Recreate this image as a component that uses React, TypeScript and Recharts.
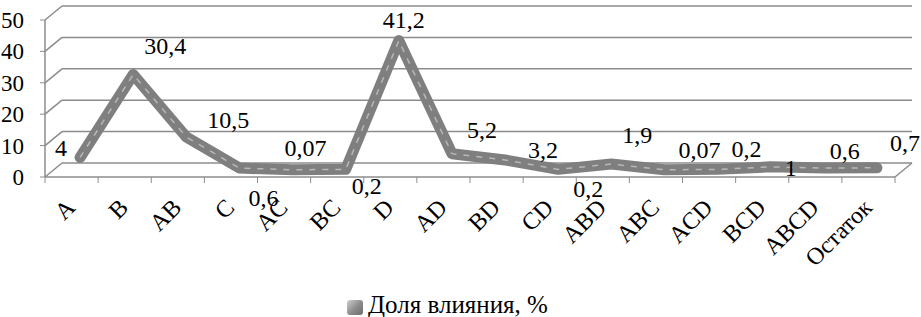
import React from 'react';
import { LineChart, Line, XAxis, YAxis, CartesianGrid, Legend, LabelList } from 'recharts';

const categories = ['A', 'B', 'AB', 'C', 'AC', 'BC', 'D', 'AD', 'BD', 'CD', 'ABD', 'ABC', 'ACD', 'BCD', 'ABCD', 'Остаток'];
const values = [4, 30.4, 10.5, 0.6, 0.07, 0.2, 41.2, 5.2, 3.2, 0.2, 1.9, 0.07, 0.2, 1, 0.6, 0.7];
const yTicks = [0, 10, 20, 30, 40, 50];
const seriesName = 'Доля влияния, %';

// layout-only: label offsets (dx, dy) per point, as Excel placed them
const labelOffsets: [number, number][] = [
  [-19, -10], [32, -29], [42, -17], [24, 29], [13, -22], [21, 16], [5, -21], [30, -24],
  [38, -10], [30, 19], [26, -29], [35, -20], [29, -21], [20, 1], [21, -18], [28, -25],
];

const data = categories.map((name, i) => ({ name, value: values[i] }));

const W = 921;
const H = 317;
const AXIS_X = 45;
const AXIS_Y = 177;
const PLOT_RIGHT = 895;
const HALF_BAND = (PLOT_RIGHT - AXIS_X) / categories.length / 2;
const DEPTH_X = 17;
const DEPTH_Y = -14;
const GRAY = '#8c8c8c';
const FONT = '"Liberation Serif", "Times New Roman", serif';

const YTick = (props: any) => {
  const { y, payload } = props;
  return (
    <g>
      <line x1={AXIS_X - 5} x2={AXIS_X} y1={y} y2={y} stroke={GRAY} strokeWidth={1} />
      <line x1={AXIS_X} y1={y} x2={AXIS_X + DEPTH_X} y2={y + DEPTH_Y} stroke={GRAY} strokeWidth={1.5} />
      <text x={24} y={y + 8} textAnchor="end" fontFamily={FONT} fontSize={23} fill="#000">
        {payload.value}
      </text>
    </g>
  );
};

const XTick = (props: any) => {
  const { x, index, payload } = props;
  const last = index === categories.length - 1;
  const ax = x + 5;
  const ay = 209;
  return (
    <g>
      <line x1={x - HALF_BAND} x2={x - HALF_BAND} y1={AXIS_Y} y2={AXIS_Y + 6} stroke={GRAY} strokeWidth={1} />
      {last && (
        <>
          <line x1={x + HALF_BAND} x2={x + HALF_BAND} y1={AXIS_Y} y2={AXIS_Y + 6} stroke={GRAY} strokeWidth={1} />
          <line x1={x + HALF_BAND} y1={AXIS_Y} x2={x + HALF_BAND + DEPTH_X} y2={AXIS_Y + DEPTH_Y} stroke={GRAY} strokeWidth={1.5} />
        </>
      )}
      <text
        x={ax}
        y={ay}
        transform={`rotate(-45 ${ax} ${ay})`}
        textAnchor="end"
        fontFamily={FONT}
        fontSize={24}
        fill="#000"
      >
        {payload.value}
      </text>
    </g>
  );
};

const renderLabel = (props: any) => {
  const { x, y, value, index } = props;
  const [dx, dy] = labelOffsets[index] || [0, -20];
  return (
    <text
      x={x + dx + DEPTH_X / 2}
      y={y + dy + DEPTH_Y / 2}
      dy="0.35em"
      textAnchor="middle"
      fontFamily={FONT}
      fontSize={24}
      fill="#000"
    >
      {String(value).replace('.', ',')}
    </text>
  );
};

const LegendContent = (props: any) => {
  const items = (props.payload || []).filter((p: any) => p.type !== 'none');
  return (
    <div
      style={{
        height: 30,
        boxSizing: 'border-box',
        paddingTop: 5,
        display: 'flex',
        justifyContent: 'center',
        alignItems: 'flex-start',
        fontFamily: FONT,
        fontSize: 25,
        lineHeight: '25px',
        color: '#000',
        overflow: 'visible',
      }}
    >
      {items.map((it: any) => (
        <div key={it.value} style={{ display: 'flex', alignItems: 'center', whiteSpace: 'nowrap' }}>
          <span
            style={{
              display: 'inline-block',
              width: 16,
              height: 15,
              marginTop: 5,
              marginRight: 5,
              borderRadius: 3,
              background: 'linear-gradient(135deg, #d0d0d0 0%, #8a8a8a 55%, #6e6e6e 100%)',
            }}
          />
          <span>{it.value}</span>
        </div>
      ))}
    </div>
  );
};

export default function App() {
  return (
    <div style={{ position: 'absolute', left: 0, top: 0, width: W, height: H, background: '#fff' }}>
      <style>{`
        .recharts-cartesian-grid-horizontal { transform: translate(${DEPTH_X}px, ${DEPTH_Y}px); }
        .recharts-line { transform: translate(${DEPTH_X / 2}px, ${DEPTH_Y / 2}px); }
      `}</style>
      <LineChart width={W} height={H} data={data} margin={{ top: 20, right: W - PLOT_RIGHT, left: 0, bottom: 0 }}>
        <CartesianGrid horizontal vertical={false} stroke={GRAY} strokeWidth={1.5} />
        <XAxis
          dataKey="name"
          interval={0}
          height={110}
          padding={{ left: HALF_BAND, right: HALF_BAND }}
          tickLine={false}
          axisLine={{ stroke: GRAY, strokeWidth: 1.5 }}
          tick={<XTick />}
        />
        <YAxis
          type="number"
          domain={[0, 50]}
          ticks={yTicks}
          width={AXIS_X}
          tickLine={false}
          axisLine={{ stroke: GRAY, strokeWidth: 1.5 }}
          tick={<YTick />}
        />
        <Legend verticalAlign="bottom" align="center" content={<LegendContent />} />
        <Line
          name={seriesName}
          dataKey="value"
          stroke="#7f7f7f"
          strokeWidth={11}
          strokeLinejoin="round"
          strokeLinecap="round"
          dot={false}
          activeDot={false}
          isAnimationActive={false}
        />
        <Line
          dataKey="value"
          stroke="#b8b8b8"
          strokeWidth={1.5}
          strokeDasharray="6 7"
          dot={false}
          activeDot={false}
          legendType="none"
          isAnimationActive={false}
        >
          <LabelList dataKey="value" content={renderLabel} />
        </Line>
      </LineChart>
    </div>
  );
}
